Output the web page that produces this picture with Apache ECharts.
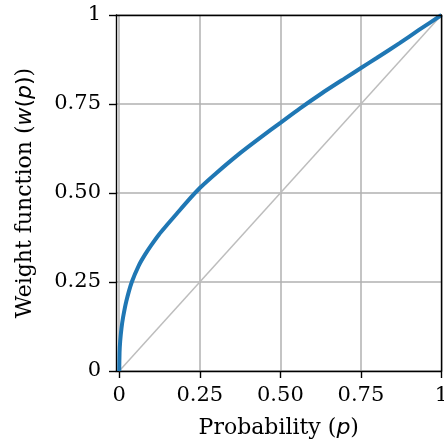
<!DOCTYPE html>
<html>
<head>
<meta charset="utf-8">
<script src="https://cdn.jsdelivr.net/npm/echarts@6/dist/echarts.min.js"></script>
<style>
  html, body { margin: 0; padding: 0; background: #fff; }
  #chart { width: 444px; height: 443px; }
</style>
</head>
<body>
<div id="chart"></div>
<script>
// Probability values (x) and weight function values (y)
const probability = [0, 0.001, 0.003, 0.007, 0.012, 0.022, 0.039, 0.061, 0.08, 0.099, 0.123, 0.148, 0.179, 0.215, 0.25, 0.3, 0.375, 0.44, 0.5, 0.56, 0.63, 0.7, 0.75, 0.8, 0.87, 0.93, 1];
const weight      = [0, 0.052, 0.084, 0.12, 0.151, 0.196, 0.25, 0.297, 0.327, 0.353, 0.383, 0.41, 0.4425, 0.48, 0.514, 0.555, 0.612, 0.657, 0.697, 0.737, 0.781, 0.822, 0.851, 0.88, 0.921, 0.958, 1];
// Identity reference line
const identityP = [0, 1];
const identityW = [0, 1];
// Tick values and labels
const tickValues = [0, 0.25, 0.5, 0.75, 1];
const tickLabels = ['0', '0.25', '0.50', '0.75', '1'];

function fmt(v) {
  const i = tickValues.findIndex(t => Math.abs(t - v) < 1e-9);
  return i >= 0 ? tickLabels[i] : '';
}

const serif = 'DejaVu Serif';
const spine = { color: '#000', width: 1.4 };
const chart = echarts.init(document.getElementById('chart'), null, { renderer: 'canvas' });
chart.setOption({
  animation: false,
  backgroundColor: '#fff',
  grid: {
    left: 116, top: 15, right: 2.5, bottom: 72,
    containLabel: false, outerBoundsMode: 'none'
  },
  xAxis: [{
    type: 'value', min: -0.01, max: 1,
    name: '{n|Probability (}{i|p}{n|)}',
    nameLocation: 'middle', nameGap: 46,
    nameTextStyle: {
      rich: {
        n: { fontFamily: serif, fontSize: 22, color: '#000' },
        i: { fontFamily: 'DejaVu Sans', fontStyle: 'italic', fontSize: 22, color: '#000' }
      }
    },
    axisLine: { show: true, onZero: false, lineStyle: spine },
    axisTick: { show: true, length: 7, customValues: tickValues, lineStyle: spine },
    axisLabel: { customValues: tickValues, formatter: fmt, fontFamily: serif, fontSize: 21, color: '#000', margin: 14 },
    splitLine: { show: true, lineStyle: { color: '#b0b0b0', width: 1.5 } }
  }, {
    type: 'value', min: -0.01, max: 1, position: 'top', z: 5,
    axisLine: { show: true, onZero: false, lineStyle: spine },
    axisTick: { show: false }, axisLabel: { show: false }, splitLine: { show: false }
  }],
  yAxis: [{
    type: 'value', min: 0, max: 1, interval: 0.25,
    name: '{n|Weight function (}{i|w}{m|(}{i|p}{m|)}{n|)}',
    nameLocation: 'middle', nameGap: 80, nameRotate: 90,
    nameTextStyle: {
      rich: {
        n: { fontFamily: serif, fontSize: 22, color: '#000' },
        m: { fontFamily: 'DejaVu Sans', fontSize: 22, color: '#000' },
        i: { fontFamily: 'DejaVu Sans', fontStyle: 'italic', fontSize: 22, color: '#000' }
      }
    },
    axisLine: { show: true, onZero: false, lineStyle: spine },
    axisTick: { show: true, length: 7, lineStyle: spine },
    axisLabel: { formatter: fmt, fontFamily: serif, fontSize: 21, color: '#000', margin: 15 },
    splitLine: { show: true, lineStyle: { color: '#b0b0b0', width: 1.5 } }
  }, {
    type: 'value', min: 0, max: 1, position: 'right', z: 5,
    axisLine: { show: true, onZero: false, lineStyle: spine },
    axisTick: { show: false }, axisLabel: { show: false }, splitLine: { show: false }
  }],
  series: [
    {
      type: 'line',
      data: identityP.map((p, i) => [p, identityW[i]]),
      showSymbol: false,
      lineStyle: { color: '#bdbdbd', width: 1.5 },
      z: 2
    },
    {
      type: 'line',
      data: probability.map((p, i) => [p, weight[i]]),
      showSymbol: false,
      smooth: 0.2,
      lineStyle: { color: '#1f77b4', width: 4 },
      z: 3
    }
  ]
});
</script>
</body>
</html>
